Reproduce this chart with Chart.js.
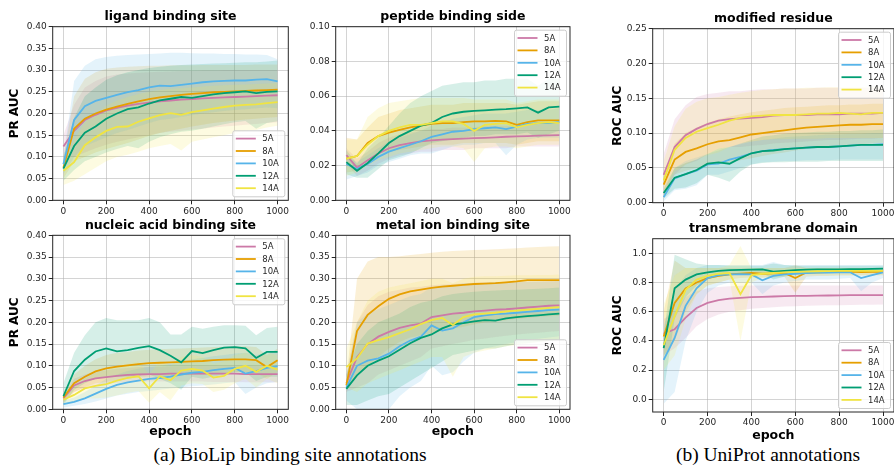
<!DOCTYPE html>
<html>
<head>
<meta charset="utf-8">
<script src="https://cdn.jsdelivr.net/npm/chart.js@4.4.1/dist/chart.umd.min.js"></script>
<style>
    html, body { margin: 0; padding: 0; background: #fff; }
    body { width: 894px; height: 466px; position: relative; overflow: hidden; }
    canvas { position: absolute; }
    .cap {
        position: absolute;
        font-family: "Liberation Serif", "Times New Roman", serif;
        font-size: 19.5px;
        line-height: 19.5px;
        color: #000;
        white-space: nowrap;
        transform: translateX(-50%);
    }
</style>
</head>
<body>
<div class="cap" style="left:290px; top:445px">(a) BioLip binding site annotations</div>
<div class="cap" style="left:768px; top:445px">(b) UniProt annotations</div>
<script>
const epochs = [0, 50, 100, 150, 200, 250, 300, 350, 400, 450, 500, 550, 600, 650, 700, 750, 800, 850, 900, 950, 1000];
const seriesNames = ["5A", "8A", "10A", "12A", "14A"];
const seriesColors = ["#cc79a7", "#e69f00", "#56b4e9", "#009e73", "#f0e442"];

const xTicks = [0, 200, 400, 600, 800, 1000];
const prTicks = [0, 0.05, 0.1, 0.15, 0.2, 0.25, 0.3, 0.35, 0.4];
const peptideTicks = [0, 0.02, 0.04, 0.06, 0.08, 0.1];
const modifiedTicks = [0, 0.05, 0.1, 0.15, 0.2, 0.25];
const membraneTicks = [0, 0.2, 0.4, 0.6, 0.8, 1.0];

// rows: 5A, 8A, 10A, 12A, 14A
const ligandMean = [
    [0.124,0.160,0.185,0.197,0.207,0.213,0.218,0.222,0.225,0.228,0.230,0.232,0.233,0.235,0.236,0.237,0.238,0.239,0.240,0.241,0.242],
    [0.075,0.165,0.188,0.200,0.209,0.216,0.222,0.228,0.233,0.237,0.240,0.243,0.245,0.247,0.249,0.250,0.251,0.252,0.253,0.254,0.255],
    [0.083,0.185,0.217,0.229,0.236,0.243,0.249,0.254,0.260,0.264,0.263,0.266,0.269,0.272,0.274,0.275,0.276,0.276,0.278,0.279,0.274],
    [0.073,0.125,0.156,0.170,0.188,0.200,0.210,0.214,0.223,0.230,0.234,0.238,0.236,0.240,0.244,0.247,0.249,0.251,0.247,0.250,0.251],
    [0.068,0.088,0.127,0.145,0.160,0.169,0.170,0.181,0.189,0.196,0.201,0.197,0.203,0.207,0.211,0.215,0.218,0.220,0.221,0.224,0.226]
];
const ligandHi = [
    [0.150,0.220,0.260,0.275,0.285,0.290,0.292,0.294,0.295,0.296,0.297,0.298,0.298,0.299,0.299,0.300,0.300,0.300,0.300,0.300,0.300],
    [0.100,0.240,0.280,0.295,0.303,0.306,0.308,0.309,0.310,0.310,0.311,0.311,0.311,0.312,0.312,0.312,0.312,0.312,0.313,0.313,0.313],
    [0.100,0.275,0.310,0.325,0.330,0.333,0.335,0.336,0.337,0.338,0.340,0.340,0.339,0.338,0.338,0.337,0.337,0.336,0.336,0.335,0.325],
    [0.100,0.190,0.240,0.260,0.278,0.288,0.295,0.300,0.305,0.308,0.310,0.312,0.313,0.314,0.315,0.316,0.317,0.318,0.318,0.320,0.322],
    [0.090,0.140,0.180,0.200,0.218,0.230,0.238,0.245,0.250,0.254,0.257,0.258,0.260,0.262,0.264,0.265,0.266,0.267,0.268,0.269,0.270]
];
const ligandLo = [
    [0.098,0.100,0.110,0.120,0.128,0.135,0.140,0.145,0.150,0.155,0.158,0.160,0.163,0.165,0.168,0.170,0.172,0.174,0.176,0.178,0.180],
    [0.050,0.090,0.100,0.110,0.118,0.125,0.132,0.140,0.148,0.155,0.160,0.165,0.170,0.174,0.178,0.181,0.184,0.186,0.188,0.190,0.192],
    [0.060,0.100,0.125,0.135,0.145,0.155,0.162,0.170,0.178,0.185,0.188,0.192,0.196,0.200,0.203,0.206,0.208,0.210,0.212,0.214,0.212],
    [0.045,0.070,0.090,0.100,0.110,0.118,0.125,0.120,0.135,0.145,0.152,0.158,0.160,0.165,0.170,0.175,0.180,0.183,0.165,0.178,0.182],
    [0.035,0.045,0.060,0.075,0.090,0.100,0.105,0.112,0.120,0.125,0.130,0.115,0.135,0.140,0.145,0.150,0.155,0.160,0.162,0.168,0.172]
];

const peptideMean = [
    [0.0260,0.0188,0.0230,0.0270,0.0300,0.0318,0.0330,0.0340,0.0345,0.0350,0.0352,0.0355,0.0358,0.0360,0.0363,0.0366,0.0368,0.0370,0.0372,0.0374,0.0375],
    [0.0240,0.0255,0.0330,0.0370,0.0390,0.0405,0.0420,0.0430,0.0440,0.0445,0.0445,0.0450,0.0455,0.0455,0.0458,0.0455,0.0435,0.0450,0.0460,0.0460,0.0460],
    [0.0210,0.0180,0.0210,0.0250,0.0280,0.0300,0.0320,0.0340,0.0365,0.0380,0.0395,0.0400,0.0410,0.0415,0.0420,0.0410,0.0425,0.0440,0.0445,0.0445,0.0450],
    [0.0220,0.0170,0.0215,0.0270,0.0330,0.0370,0.0400,0.0430,0.0445,0.0480,0.0500,0.0510,0.0515,0.0518,0.0522,0.0525,0.0530,0.0535,0.0505,0.0535,0.0540],
    [0.0240,0.0255,0.0320,0.0370,0.0400,0.0420,0.0435,0.0435,0.0445,0.0455,0.0455,0.0440,0.0400,0.0435,0.0440,0.0445,0.0420,0.0435,0.0445,0.0450,0.0445]
];
const peptideHi = [
    [0.030,0.024,0.028,0.033,0.036,0.038,0.039,0.040,0.041,0.041,0.042,0.042,0.042,0.043,0.043,0.043,0.043,0.044,0.044,0.044,0.044],
    [0.036,0.035,0.042,0.048,0.050,0.052,0.053,0.054,0.055,0.055,0.055,0.056,0.056,0.056,0.056,0.056,0.055,0.056,0.057,0.057,0.057],
    [0.025,0.022,0.026,0.030,0.034,0.036,0.038,0.040,0.043,0.045,0.047,0.048,0.049,0.050,0.050,0.050,0.051,0.052,0.052,0.052,0.053],
    [0.029,0.021,0.030,0.036,0.043,0.050,0.056,0.060,0.063,0.066,0.067,0.068,0.068,0.069,0.069,0.070,0.070,0.070,0.066,0.070,0.070],
    [0.035,0.035,0.048,0.053,0.056,0.057,0.058,0.059,0.059,0.059,0.059,0.059,0.058,0.058,0.058,0.058,0.056,0.057,0.058,0.058,0.058]
];
const peptideLo = [
    [0.021,0.014,0.017,0.021,0.024,0.026,0.027,0.028,0.028,0.029,0.029,0.029,0.030,0.030,0.030,0.030,0.031,0.031,0.031,0.031,0.031],
    [0.016,0.017,0.024,0.027,0.028,0.029,0.030,0.031,0.032,0.032,0.032,0.033,0.033,0.033,0.033,0.033,0.032,0.033,0.034,0.034,0.034],
    [0.012,0.014,0.016,0.020,0.022,0.024,0.026,0.027,0.027,0.029,0.031,0.032,0.032,0.033,0.033,0.026,0.032,0.035,0.036,0.036,0.036],
    [0.015,0.013,0.013,0.018,0.023,0.025,0.027,0.030,0.033,0.034,0.035,0.036,0.037,0.037,0.038,0.038,0.038,0.039,0.036,0.038,0.040],
    [0.014,0.016,0.020,0.023,0.025,0.027,0.028,0.029,0.030,0.031,0.031,0.030,0.022,0.030,0.031,0.031,0.030,0.031,0.032,0.032,0.032]
];

const modifiedMean = [
    [0.040,0.080,0.097,0.106,0.113,0.118,0.120,0.121,0.122,0.123,0.125,0.126,0.126,0.126,0.127,0.127,0.127,0.128,0.128,0.128,0.129],
    [0.026,0.062,0.073,0.078,0.084,0.088,0.090,0.094,0.098,0.100,0.102,0.104,0.106,0.108,0.109,0.110,0.111,0.112,0.112,0.113,0.113],
    [0.008,0.035,0.041,0.046,0.055,0.056,0.062,0.066,0.071,0.074,0.076,0.077,0.078,0.079,0.080,0.080,0.081,0.082,0.083,0.083,0.084],
    [0.014,0.036,0.041,0.047,0.056,0.058,0.056,0.064,0.071,0.074,0.075,0.077,0.078,0.079,0.080,0.080,0.081,0.082,0.083,0.083,0.083],
    [0.032,0.076,0.093,0.102,0.107,0.112,0.118,0.122,0.124,0.125,0.126,0.126,0.126,0.127,0.128,0.128,0.129,0.128,0.127,0.129,0.129]
];
const modifiedHi = [
    [0.070,0.120,0.140,0.152,0.156,0.158,0.160,0.160,0.162,0.163,0.163,0.164,0.164,0.164,0.165,0.165,0.165,0.165,0.165,0.165,0.165],
    [0.040,0.085,0.100,0.108,0.115,0.120,0.124,0.127,0.130,0.132,0.134,0.136,0.137,0.138,0.139,0.140,0.140,0.141,0.141,0.142,0.142],
    [0.015,0.050,0.060,0.065,0.070,0.075,0.080,0.084,0.088,0.090,0.092,0.094,0.095,0.096,0.097,0.098,0.098,0.099,0.099,0.100,0.100],
    [0.020,0.050,0.057,0.062,0.070,0.078,0.080,0.085,0.090,0.095,0.097,0.099,0.100,0.101,0.102,0.102,0.103,0.103,0.104,0.104,0.105],
    [0.060,0.110,0.135,0.145,0.150,0.152,0.155,0.158,0.160,0.162,0.163,0.164,0.164,0.165,0.165,0.166,0.166,0.166,0.166,0.167,0.167]
];
const modifiedLo = [
    [0.010,0.040,0.055,0.060,0.070,0.078,0.080,0.080,0.082,0.083,0.085,0.086,0.087,0.088,0.089,0.090,0.090,0.091,0.092,0.092,0.093],
    [0.012,0.040,0.046,0.050,0.053,0.056,0.058,0.061,0.064,0.067,0.070,0.072,0.075,0.077,0.079,0.080,0.082,0.083,0.084,0.085,0.085],
    [0.002,0.018,0.020,0.025,0.040,0.040,0.045,0.050,0.055,0.058,0.059,0.060,0.060,0.061,0.061,0.061,0.062,0.062,0.062,0.062,0.062],
    [0.006,0.020,0.022,0.028,0.040,0.036,0.030,0.045,0.055,0.057,0.058,0.058,0.059,0.059,0.059,0.060,0.060,0.060,0.060,0.060,0.060],
    [0.008,0.045,0.055,0.062,0.068,0.072,0.080,0.085,0.088,0.090,0.091,0.091,0.092,0.092,0.092,0.093,0.093,0.093,0.093,0.093,0.093]
];

const nucleicMean = [
    [0.025,0.055,0.065,0.071,0.074,0.077,0.079,0.080,0.081,0.081,0.082,0.082,0.082,0.082,0.082,0.082,0.082,0.081,0.081,0.081,0.081],
    [0.027,0.060,0.075,0.087,0.094,0.098,0.101,0.104,0.106,0.107,0.108,0.109,0.110,0.111,0.113,0.114,0.115,0.115,0.113,0.097,0.113],
    [0.012,0.017,0.025,0.036,0.047,0.056,0.062,0.066,0.070,0.072,0.075,0.080,0.084,0.086,0.090,0.093,0.095,0.082,0.088,0.095,0.099],
    [0.030,0.088,0.114,0.133,0.140,0.133,0.136,0.141,0.145,0.136,0.123,0.108,0.134,0.129,0.136,0.142,0.143,0.140,0.118,0.132,0.132],
    [0.022,0.033,0.048,0.054,0.058,0.066,0.072,0.076,0.048,0.076,0.067,0.089,0.093,0.089,0.073,0.077,0.093,0.100,0.086,0.100,0.091]
];
const nucleicHi = [
    [0.030,0.070,0.080,0.087,0.090,0.093,0.095,0.097,0.098,0.098,0.099,0.099,0.099,0.100,0.100,0.100,0.100,0.100,0.100,0.100,0.100],
    [0.040,0.080,0.100,0.115,0.125,0.130,0.132,0.135,0.137,0.138,0.139,0.140,0.141,0.142,0.143,0.144,0.145,0.145,0.143,0.125,0.140],
    [0.020,0.027,0.040,0.055,0.070,0.080,0.088,0.093,0.098,0.100,0.105,0.110,0.115,0.118,0.122,0.125,0.128,0.130,0.125,0.130,0.135],
    [0.060,0.130,0.170,0.200,0.210,0.205,0.205,0.205,0.210,0.200,0.172,0.172,0.190,0.185,0.190,0.193,0.193,0.192,0.170,0.187,0.190],
    [0.035,0.050,0.070,0.085,0.090,0.100,0.105,0.110,0.080,0.110,0.100,0.120,0.125,0.120,0.105,0.110,0.125,0.130,0.120,0.130,0.125]
];
const nucleicLo = [
    [0.018,0.040,0.050,0.055,0.058,0.061,0.063,0.064,0.064,0.064,0.064,0.064,0.064,0.064,0.063,0.063,0.063,0.062,0.062,0.062,0.062],
    [0.015,0.040,0.050,0.060,0.063,0.066,0.070,0.073,0.075,0.076,0.077,0.078,0.079,0.080,0.083,0.084,0.085,0.085,0.083,0.070,0.085],
    [0.004,0.008,0.012,0.018,0.025,0.032,0.036,0.040,0.042,0.045,0.048,0.050,0.053,0.055,0.057,0.060,0.062,0.035,0.050,0.060,0.063],
    [0.010,0.045,0.060,0.070,0.075,0.075,0.075,0.078,0.080,0.070,0.060,0.045,0.075,0.070,0.075,0.080,0.085,0.085,0.065,0.075,0.075],
    [0.010,0.015,0.025,0.025,0.027,0.032,0.038,0.042,0.015,0.040,0.020,0.055,0.060,0.058,0.040,0.045,0.060,0.070,0.050,0.070,0.060]
];

const metalMean = [
    [0.060,0.120,0.150,0.167,0.178,0.187,0.193,0.197,0.212,0.216,0.220,0.222,0.225,0.227,0.229,0.230,0.232,0.234,0.236,0.238,0.239],
    [0.055,0.180,0.217,0.237,0.254,0.264,0.271,0.275,0.279,0.282,0.284,0.286,0.288,0.289,0.290,0.292,0.294,0.297,0.297,0.297,0.297],
    [0.050,0.100,0.112,0.117,0.128,0.145,0.158,0.167,0.193,0.181,0.186,0.200,0.212,0.216,0.219,0.220,0.222,0.224,0.226,0.228,0.229],
    [0.047,0.078,0.100,0.112,0.122,0.137,0.152,0.164,0.172,0.186,0.195,0.198,0.202,0.205,0.204,0.209,0.212,0.214,0.216,0.218,0.220],
    [0.097,0.117,0.151,0.159,0.166,0.175,0.184,0.196,0.205,0.210,0.194,0.212,0.218,0.220,0.222,0.225,0.227,0.229,0.231,0.233,0.235]
];
const metalHi = [
    [0.080,0.200,0.240,0.260,0.270,0.275,0.280,0.282,0.285,0.287,0.288,0.290,0.291,0.292,0.292,0.293,0.293,0.294,0.294,0.295,0.295],
    [0.070,0.300,0.340,0.350,0.350,0.352,0.355,0.357,0.360,0.362,0.364,0.365,0.366,0.367,0.368,0.369,0.370,0.372,0.373,0.374,0.375],
    [0.080,0.200,0.220,0.230,0.240,0.250,0.260,0.265,0.280,0.285,0.285,0.290,0.290,0.291,0.292,0.292,0.293,0.293,0.294,0.294,0.295],
    [0.080,0.150,0.180,0.200,0.210,0.220,0.235,0.245,0.250,0.260,0.265,0.268,0.270,0.272,0.273,0.274,0.275,0.276,0.277,0.278,0.280],
    [0.140,0.200,0.250,0.270,0.280,0.285,0.290,0.295,0.300,0.300,0.290,0.300,0.305,0.306,0.306,0.307,0.308,0.308,0.309,0.309,0.310]
];
const metalLo = [
    [0.040,0.050,0.060,0.080,0.090,0.100,0.110,0.120,0.140,0.145,0.150,0.155,0.160,0.163,0.166,0.169,0.172,0.174,0.176,0.178,0.180],
    [0.040,0.080,0.100,0.120,0.140,0.155,0.165,0.170,0.175,0.180,0.185,0.190,0.195,0.200,0.202,0.205,0.208,0.210,0.212,0.214,0.215],
    [0.020,0.000,-0.010,-0.010,0.000,0.030,0.050,0.065,0.100,0.078,0.085,0.110,0.130,0.140,0.145,0.150,0.155,0.160,0.162,0.165,0.168],
    [0.010,0.010,0.020,0.030,0.035,0.050,0.065,0.080,0.095,0.110,0.125,0.130,0.135,0.140,0.140,0.145,0.150,0.152,0.155,0.157,0.160],
    [0.050,0.040,0.060,0.070,0.080,0.090,0.100,0.110,0.120,0.120,0.075,0.120,0.130,0.135,0.140,0.145,0.148,0.151,0.154,0.157,0.160]
];

const membraneMean = [
    [0.450,0.480,0.560,0.625,0.660,0.680,0.690,0.695,0.700,0.702,0.704,0.706,0.708,0.709,0.710,0.711,0.712,0.713,0.713,0.714,0.714],
    [0.430,0.660,0.760,0.800,0.830,0.845,0.855,0.860,0.865,0.860,0.862,0.865,0.830,0.868,0.870,0.872,0.873,0.874,0.872,0.873,0.873],
    [0.270,0.420,0.640,0.760,0.830,0.850,0.855,0.857,0.855,0.815,0.845,0.855,0.860,0.865,0.867,0.868,0.870,0.870,0.830,0.850,0.870],
    [0.350,0.760,0.820,0.855,0.870,0.880,0.885,0.887,0.888,0.890,0.875,0.880,0.885,0.888,0.890,0.890,0.890,0.891,0.892,0.893,0.895],
    [0.370,0.570,0.750,0.820,0.845,0.860,0.865,0.720,0.850,0.860,0.865,0.870,0.873,0.875,0.877,0.878,0.880,0.880,0.880,0.880,0.880]
];
const membraneHi = [
    [0.550,0.600,0.700,0.740,0.760,0.770,0.775,0.778,0.780,0.780,0.780,0.780,0.780,0.780,0.780,0.780,0.780,0.780,0.780,0.780,0.780],
    [0.600,0.950,0.900,0.900,0.900,0.900,0.900,0.900,0.900,0.900,0.900,0.900,0.920,0.900,0.900,0.900,0.900,0.900,0.900,0.900,0.900],
    [0.500,0.750,0.850,0.900,0.920,0.920,0.920,0.920,0.920,0.920,0.940,0.920,0.920,0.920,0.920,0.920,0.920,0.920,0.920,0.920,0.920],
    [0.450,0.990,0.960,0.930,0.920,0.920,0.915,0.915,0.915,0.915,0.930,0.920,0.915,0.915,0.915,0.915,0.915,0.915,0.915,0.915,0.915],
    [0.650,0.850,0.900,0.900,0.900,0.900,0.920,1.050,0.900,0.900,0.900,0.900,0.900,0.900,0.900,0.900,0.900,0.900,0.900,0.900,0.900]
];
const membraneLo = [
    [0.300,0.350,0.420,0.500,0.550,0.580,0.600,0.610,0.620,0.625,0.630,0.635,0.638,0.640,0.642,0.644,0.645,0.646,0.647,0.648,0.650],
    [0.300,0.400,0.600,0.720,0.780,0.800,0.820,0.830,0.835,0.835,0.835,0.840,0.730,0.840,0.845,0.845,0.848,0.848,0.848,0.850,0.850],
    [-0.030,0.050,0.400,0.600,0.730,0.780,0.800,0.800,0.800,0.720,0.780,0.800,0.810,0.820,0.820,0.820,0.825,0.830,0.740,0.800,0.830],
    [0.050,0.550,0.700,0.780,0.820,0.840,0.850,0.855,0.860,0.865,0.820,0.840,0.855,0.860,0.860,0.865,0.865,0.865,0.865,0.870,0.870],
    [0.200,0.300,0.550,0.720,0.780,0.800,0.820,0.400,0.800,0.830,0.840,0.845,0.848,0.850,0.850,0.850,0.850,0.850,0.850,0.850,0.850]
];

Chart.defaults.font.family = "'DejaVu Sans', sans-serif";
Chart.defaults.color = "#262626";

function withAlpha(hex, a) {
    const n = parseInt(hex.slice(1), 16);
    return `rgba(${(n >> 16) & 255}, ${(n >> 8) & 255}, ${n & 255}, ${a})`;
}

const toPoints = (values) => values.map((v, i) => ({ x: epochs[i], y: v }));

// axes frame drawn over the lines, like matplotlib spines
const framePlugin = {
    id: "frame",
    afterDatasetsDraw(chart) {
        const { ctx, chartArea: a } = chart;
        ctx.save();
        ctx.strokeStyle = "#262626";
        ctx.lineWidth = 1;
        ctx.strokeRect(a.left, a.top, a.right - a.left, a.bottom - a.top);
        ctx.restore();
    }
};

// legend box inside the plot area
const legendPlugin = {
    id: "insetLegend",
    afterDatasetsDraw(chart, args, opts) {
        const { ctx, chartArea: a } = chart;
        const w = 52, h = 66, inset = 3.5;
        const x = a.right - inset - w;
        const y = opts.corner === "lr" ? a.bottom - inset - h : a.top + inset;
        ctx.save();
        ctx.beginPath();
        ctx.roundRect(x, y, w, h, 2);
        ctx.fillStyle = "rgba(255,255,255,0.8)";
        ctx.fill();
        ctx.strokeStyle = "#cccccc";
        ctx.lineWidth = 1;
        ctx.stroke();
        ctx.font = "8.5px 'DejaVu Sans'";
        ctx.textBaseline = "middle";
        seriesNames.forEach((name, i) => {
            const cy = y + 7.8 + i * 12.4;
            ctx.strokeStyle = seriesColors[i];
            ctx.lineWidth = 1.8;
            ctx.beginPath();
            ctx.moveTo(x + 3, cy);
            ctx.lineTo(x + 23, cy);
            ctx.stroke();
            ctx.fillStyle = "#262626";
            ctx.fillText(name, x + 29.5, cy + 0.5);
        });
        ctx.restore();
    }
};

// box: canvas [left, top, width, height]; area: [y axis width, top space, right space, x axis height]
const panels = [
    { title: "ligand binding site", mean: ligandMean, hi: ligandHi, lo: ligandLo,
      yTicks: prTicks, yMin: 0, yMax: 0.4, dec: 2, yLabel: "PR AUC", xLabel: "", corner: "lr",
      box: [0, 0, 292, 220], area: [52.7, 26.7, 3.7, 19.7], yTitlePad: 7.8, xTitlePad: 0 },
    { title: "peptide binding side", mean: peptideMean, hi: peptideHi, lo: peptideLo,
      yTicks: peptideTicks, yMin: 0, yMax: 0.1, dec: 2, yLabel: "", xLabel: "", corner: "ur",
      box: [296, 0, 278, 220], area: [39.7, 26.7, 4, 19.7], yTitlePad: 0, xTitlePad: 0 },
    { title: "modified residue", mean: modifiedMean, hi: modifiedHi, lo: modifiedLo,
      yTicks: modifiedTicks, yMin: 0, yMax: 0.25, dec: 2, yLabel: "ROC AUC", xLabel: "", corner: "ur",
      box: [600, 0, 294, 222], area: [52.7, 28.7, 0, 19.3], yTitlePad: 11.1, xTitlePad: 0 },
    { title: "nucleic acid binding site", mean: nucleicMean, hi: nucleicHi, lo: nucleicLo,
      yTicks: prTicks, yMin: 0, yMax: 0.4, dec: 2, yLabel: "PR AUC", xLabel: "epoch", corner: "ur",
      box: [0, 208, 292, 237], area: [52.7, 27.3, 3.7, 35.7], yTitlePad: 7.8, xTitlePad: 5.8 },
    { title: "metal ion binding site", mean: metalMean, hi: metalHi, lo: metalLo,
      yTicks: prTicks, yMin: 0, yMax: 0.4, dec: 2, yLabel: "", xLabel: "epoch", corner: "lr",
      box: [296, 208, 278, 237], area: [39.7, 27.3, 4, 35.7], yTitlePad: 0, xTitlePad: 5.8 },
    { title: "transmembrane domain", mean: membraneMean, hi: membraneHi, lo: membraneLo,
      yTicks: membraneTicks, yMin: -0.087, yMax: 1.1, dec: 1, yLabel: "ROC AUC", xLabel: "epoch", corner: "lr",
      box: [600, 211, 294, 237], area: [52.7, 27.7, 0, 36], yTitlePad: 11.1, xTitlePad: 4.5 }
];

function makePanel(p) {
    const [left, top, width, height] = p.box;
    const [yW, tP, rP, xH] = p.area;
    const canvas = document.createElement("canvas");
    canvas.width = width;
    canvas.height = height;
    canvas.style.left = left + "px";
    canvas.style.top = top + "px";
    canvas.style.width = width + "px";
    canvas.style.height = height + "px";
    document.body.appendChild(canvas);

    const datasets = [];
    seriesNames.forEach((name, i) => {
        datasets.push({
            label: name,
            data: toPoints(p.mean[i]),
            borderColor: seriesColors[i],
            borderWidth: 1.8,
            pointRadius: 0,
            tension: 0,
            fill: false,
            order: 4 - i
        });
    });
    seriesNames.forEach((name, i) => {
        datasets.push({
            label: name + " upper",
            data: toPoints(p.hi[i]),
            borderColor: "rgba(0,0,0,0)",
            borderWidth: 0,
            pointRadius: 0,
            tension: 0,
            backgroundColor: withAlpha(seriesColors[i], 0.16),
            fill: "+1",
            order: 14 - i
        });
        datasets.push({
            label: name + " lower",
            data: toPoints(p.lo[i]),
            borderColor: "rgba(0,0,0,0)",
            borderWidth: 0,
            pointRadius: 0,
            tension: 0,
            fill: false,
            order: 14 - i
        });
    });

    const gridOpts = {
        color: "rgba(176,176,176,0.55)",
        lineWidth: 1,
        drawTicks: true,
        tickLength: 4,
        tickColor: "#262626"
    };

    new Chart(canvas, {
        type: "line",
        data: { datasets },
        options: {
            responsive: false,
            animation: false,
            events: [],
            layout: { padding: { left: 0, top: 0, right: rP, bottom: 0 } },
            plugins: {
                legend: { display: false },
                tooltip: { enabled: false },
                title: {
                    display: true,
                    text: p.title,
                    fullSize: false,
                    color: "#000",
                    font: { size: 12.5, weight: "bold", lineHeight: 1.2 },
                    padding: { top: tP - 17.5, bottom: 2.5 }
                },
                insetLegend: { corner: p.corner }
            },
            scales: {
                x: {
                    type: "linear",
                    min: -50,
                    max: 1050,
                    afterBuildTicks: (s) => { s.ticks = xTicks.map((v) => ({ value: v })); },
                    afterFit: (s) => { s.height = xH; s.paddingLeft = 0; s.paddingRight = 0; },
                    ticks: {
                        font: { size: 9 },
                        color: "#262626",
                        padding: 1.5,
                        maxRotation: 0,
                        autoSkip: false,
                        callback: (v) => String(v)
                    },
                    grid: gridOpts,
                    border: { display: false },
                    title: {
                        display: !!p.xLabel,
                        text: p.xLabel,
                        color: "#000",
                        font: { size: 12.5, weight: "bold", lineHeight: 1.2 },
                        padding: { top: 0, bottom: p.xTitlePad }
                    }
                },
                y: {
                    type: "linear",
                    min: p.yMin,
                    max: p.yMax,
                    afterBuildTicks: (s) => { s.ticks = p.yTicks.map((v) => ({ value: v })); },
                    afterFit: (s) => { s.width = yW; s.paddingTop = 0; s.paddingBottom = 0; },
                    ticks: {
                        font: { size: 9 },
                        color: "#262626",
                        padding: 2,
                        callback: (v) => Number(v).toFixed(p.dec)
                    },
                    grid: gridOpts,
                    border: { display: false },
                    title: {
                        display: !!p.yLabel,
                        text: p.yLabel,
                        color: "#000",
                        font: { size: 12, weight: "bold", lineHeight: 1.2 },
                        padding: { top: p.yTitlePad, bottom: 0 }
                    }
                }
            }
        },
        plugins: [framePlugin, legendPlugin]
    });
}

panels.forEach(makePanel);
</script>
</body>
</html>
